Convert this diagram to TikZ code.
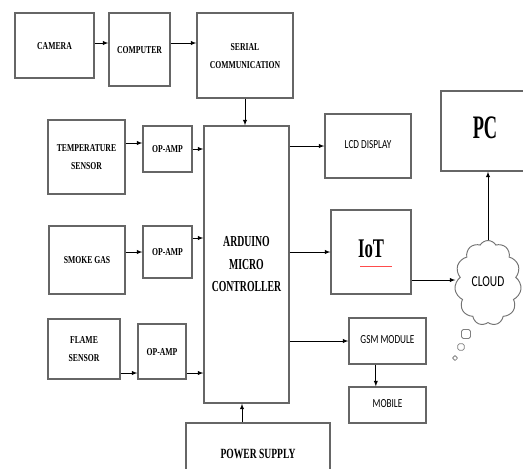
\documentclass[tikz,border=0pt]{standalone}
\usepackage{fontspec}
\setmainfont{Liberation Serif}
\newfontfamily\calib{Carlito}
\usepackage{graphicx}
\usetikzlibrary{shapes.symbols,calc}

% squeezed text, the labels are narrow
\newcommand{\sqz}[2][0.73]{\scalebox{#1}[1]{\begin{tabular}{@{}c@{}}#2\end{tabular}}}

\tikzset{
  blk/.style={draw=black!60, line width=1.1pt, inner sep=0pt, fill=white,
              font=\bfseries\fontsize{9}{15.5}\selectfont},
  sblk/.style={blk, font=\calib\fontsize{10.5}{12}\selectfont},
  arr/.style={->, >=latex, black, line width=0.6pt},
  bub/.style={draw=black!50, line width=0.7pt, rounded corners=1.5pt, inner sep=0pt}
}

\begin{document}
\begin{tikzpicture}[x=0.03cm, y=-0.03cm]
  \useasboundingbox (0,0) rectangle (523,469);
  \clip (0,0) rectangle (523,469);
  \fill[white] (0,0) rectangle (523,469);

  % top row
  \node[blk, minimum width=2.37cm, minimum height=1.95cm] (camera) at (54.5,45.5) {\sqz{CAMERA}};
  \node[blk, minimum width=1.83cm, minimum height=2.19cm] (computer) at (139.5,49.5) {\sqz{COMPUTER}};
  \node[blk, minimum width=2.88cm, minimum height=2.55cm] (serial) at (245,55.5) {\sqz{SERIAL\\COMMUNICATION}};

  % sensors and op-amps
  \node[blk, minimum width=2.31cm, minimum height=2.22cm] (temp) at (86.5,157) {\sqz{TEMPERATURE\\SENSOR}};
  \node[blk, minimum width=1.47cm, minimum height=1.38cm] (op1) at (167.5,149) {\sqz{OP-AMP}};
  \node[blk, minimum width=2.28cm, minimum height=2.04cm] (smoke) at (87,260) {\sqz{SMOKE GAS}};
  \node[blk, minimum width=1.47cm, minimum height=1.56cm] (op2) at (167.5,252) {\sqz{OP-AMP}};
  \node[blk, minimum width=2.16cm, minimum height=1.80cm] (flame) at (84,349) {\sqz{FLAME\\SENSOR}};
  \node[blk, minimum width=1.44cm, minimum height=1.65cm] (op3) at (162,351.5) {\sqz{OP-AMP}};

  % controller and supply
  \node[blk, minimum width=2.55cm, minimum height=8.31cm, font=\bfseries\fontsize{13}{19.5}\selectfont]
    (arduino) at (246.5,264.5) {\sqz[0.64]{ARDUINO\\MICRO\\CONTROLLER}};
  \node[blk, minimum width=4.32cm, minimum height=1.92cm, font=\bfseries\fontsize{12}{14}\selectfont]
    (power) at (258,455) {\sqz[0.68]{POWER SUPPLY}};

  % outputs
  \node[sblk, minimum width=2.58cm, minimum height=1.92cm] (lcd) at (368,146) {\sqz[0.75]{LCD DISPLAY}};
  \node[blk, minimum width=2.64cm, minimum height=2.40cm, font=\bfseries\fontsize{28}{30}\selectfont]
    (pc) at (485,131) {\sqz[0.56]{PC}};
  \node[blk, minimum width=2.40cm, minimum height=2.52cm, font=\bfseries\fontsize{23}{25}\selectfont]
    (iot) at (371,252) {\sqz[0.62]{IoT}};
  \node[sblk, minimum width=2.31cm, minimum height=1.38cm] (gsm) at (387.5,341) {\sqz[0.75]{GSM MODULE}};
  \node[sblk, minimum width=2.31cm, minimum height=1.08cm] (mobile) at (387.5,405) {\sqz[0.75]{MOBILE}};
  \node[cloud, cloud puffs=11, cloud puff arc=120, aspect=0.8, draw=black!55, line width=0.8pt,
        minimum width=2.0cm, minimum height=2.55cm, inner sep=0pt,
        font=\calib\fontsize{13}{14}\selectfont] (cloud) at (488,283) {\sqz[0.75]{CLOUD}};
  \node[bub, minimum size=0.27cm] (b1) at (466,334) {};
  \node[bub, minimum size=0.2cm] (b2) at (461,347) {};
  \node[bub, minimum size=0.13cm] (b3) at (455,358) {};

  % spell mark under IoT
  \draw[red!70, line width=0.4pt] ([xshift=-0.33cm,yshift=-0.42cm]iot.center) -- ++(32,0);

  % connections
  \draw[arr] (camera.east |- 0,43) -- (computer.west |- 0,43);
  \draw[arr] (computer.east |- 0,43) -- (serial.west |- 0,43);
  \draw[arr] (serial.south) -- (serial.south |- arduino.north);

  \coordinate (t1) at ([yshift=0.18cm]op1.west);
  \draw[arr] (t1 -| temp.east) -- (t1);
  \draw[arr] (op1.east) -- (op1.east -| arduino.west);
  \draw[arr] (smoke.east |- op2.west) -- (op2.west);
  \coordinate (o2) at ([yshift=0.42cm]op2.east);
  \draw[arr] (o2) -- (o2 -| arduino.west);
  \coordinate (f1) at ([yshift=-0.72cm]flame.east);
  \draw[arr] (f1) -- (f1 -| op3.west);
  \draw[arr] (f1 -| op3.east) -- (f1 -| arduino.west);

  \coordinate (pw) at ([xshift=-0.48cm]power.north);
  \draw[arr] (pw) -- (pw |- arduino.south);

  \draw[arr] (arduino.east |- lcd.west) -- (lcd.west);
  \draw[arr] (arduino.east |- iot.west) -- (iot.west);
  \draw[arr] (arduino.east |- gsm.west) -- (gsm.west);
  \coordinate (g1) at ([xshift=-0.35cm]gsm.south);
  \draw[arr] (g1) -- (g1 |- mobile.north);
  \coordinate (i1) at ([yshift=-0.84cm]iot.east);
  \draw[arr] (i1) -- (i1 -| cloud.west);
  \draw[arr] (cloud.north) -- (cloud.north |- pc.south);
\end{tikzpicture}
\end{document}
